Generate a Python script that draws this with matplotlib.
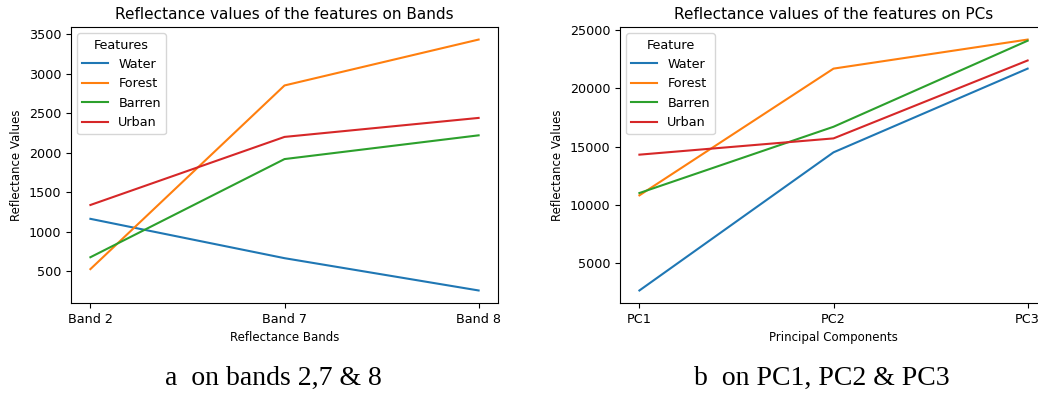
import matplotlib

matplotlib.use("Agg")
import matplotlib.pyplot as plt

# Left panel: reflectance on bands 2, 7 and 8
bands = ["Band 2", "Band 7", "Band 8"]
band_water = [1165, 668, 260]
band_forest = [530, 2850, 3430]
band_barren = [680, 1920, 2220]
band_urban = [1340, 2200, 2440]

# Right panel: reflectance on principal components
pcs = ["PC1", "PC2", "PC3"]
pc_water = [2620, 14500, 21700]
pc_forest = [10800, 21700, 24200]
pc_barren = [11000, 16700, 24100]
pc_urban = [14300, 15700, 22400]

feature_names = ["Water", "Forest", "Barren", "Urban"]

TICK_SIZE = 9.2
TITLE_SIZE = 11


def draw_panel(ax, cats, series, title, xlabel, legend_title):
    for name, values in zip(feature_names, series):
        ax.plot(cats, values, label=name, linewidth=1.5)
    ax.set_title(title, fontsize=TITLE_SIZE)
    ax.set_xlabel(xlabel, fontsize=TICK_SIZE * 0.92)
    ax.set_ylabel("Reflectance Values", fontsize=TICK_SIZE * 0.92)
    ax.tick_params(labelsize=TICK_SIZE)
    leg = ax.legend(title=legend_title, loc="upper left", fontsize=TICK_SIZE,
                    title_fontsize=TICK_SIZE)
    return leg


fig = plt.figure(figsize=(10.38, 3.96), dpi=100)
ax_a = fig.add_axes([0.0684, 0.2348, 0.4114, 0.697])
# the right panel runs past the figure edge, as in the source image
ax_b = fig.add_axes([0.5973, 0.2348, 0.4114, 0.697])

draw_panel(ax_a, bands, [band_water, band_forest, band_barren, band_urban],
           "Reflectance values of the features on Bands", "Reflectance Bands", "Features")
draw_panel(ax_b, pcs, [pc_water, pc_forest, pc_barren, pc_urban],
           "Reflectance values of the features on PCs", "Principal Components", "Feature")

caption_font = dict(family=["Liberation Serif", "DejaVu Serif"], fontsize=20,
                    ha="center", va="center")
fig.text(0.263, 0.045, "a  on bands 2,7 & 8", **caption_font)
fig.text(0.792, 0.045, "b  on PC1, PC2 & PC3", **caption_font)

fig.savefig("out.png", dpi=100)
